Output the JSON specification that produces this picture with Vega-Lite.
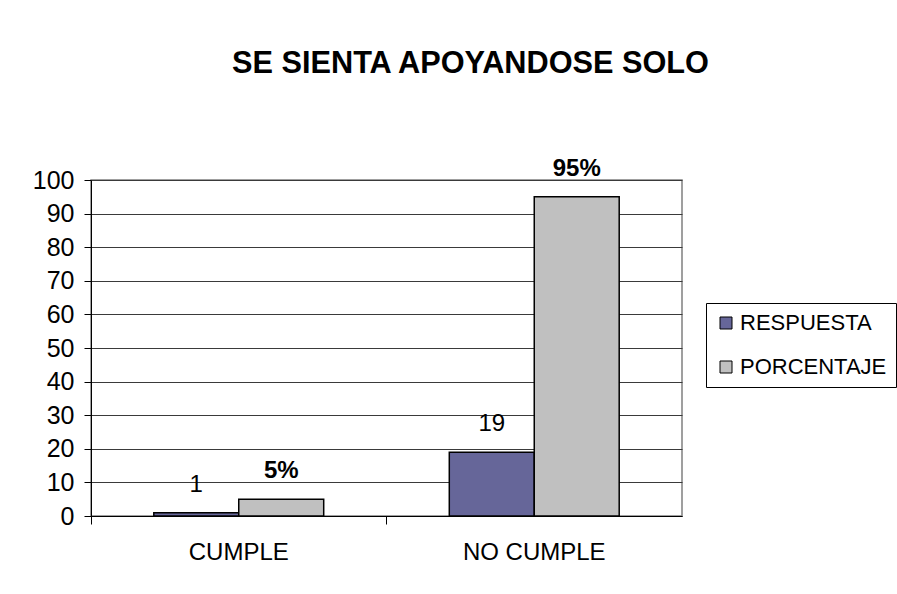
{
  "$schema": "https://vega.github.io/schema/vega-lite/v6.json",
  "width": 591,
  "height": 336,
  "autosize": "none",
  "padding": {"left": 91, "top": 180, "right": 215, "bottom": 78},
  "background": "white",
  "title": {
    "text": "SE SIENTA APOYANDOSE SOLO",
    "font": "Liberation Sans",
    "fontSize": 30.7,
    "fontWeight": "bold",
    "color": "#000000",
    "anchor": "middle",
    "frame": "group",
    "baseline": "alphabetic",
    "offset": 53,
    "dx": 84
  },
  "data": {
    "values": [
      {"categoria": "CUMPLE", "serie": "RESPUESTA", "valor": 1, "etiqueta": "1"},
      {"categoria": "CUMPLE", "serie": "PORCENTAJE", "valor": 5, "etiqueta": "5%"},
      {"categoria": "NO CUMPLE", "serie": "RESPUESTA", "valor": 19, "etiqueta": "19"},
      {"categoria": "NO CUMPLE", "serie": "PORCENTAJE", "valor": 95, "etiqueta": "95%"}
    ]
  },
  "encoding": {
    "x": {
      "field": "categoria",
      "type": "nominal",
      "sort": ["CUMPLE", "NO CUMPLE"],
      "scale": {"paddingInner": 0.425, "paddingOuter": 0.2125},
      "axis": {
        "title": null,
        "labelAngle": 0,
        "labelFont": "Liberation Sans",
        "labelFontSize": 24,
        "labelColor": "#000000",
        "labelPadding": 16,
        "domainColor": "#000000",
        "tickColor": "#000000",
        "tickSize": 8,
        "bandPosition": -0.3694,
        "labelBound": false
      }
    },
    "xOffset": {
      "field": "serie",
      "type": "nominal",
      "sort": ["RESPUESTA", "PORCENTAJE"],
      "scale": {"paddingInner": 0, "paddingOuter": 0}
    },
    "y": {
      "field": "valor",
      "type": "quantitative",
      "scale": {"domain": [0, 100], "nice": false},
      "axis": {
        "title": null,
        "tickCount": 10,
        "labelFont": "Liberation Sans",
        "labelFontSize": 25,
        "labelColor": "#000000",
        "labelPadding": 10,
        "tickSize": 7,
        "tickColor": "#000000",
        "domainColor": "#000000",
        "grid": true,
        "gridColor": "#3a3a3a",
        "gridWidth": 1
      }
    }
  },
  "layer": [
    {
      "mark": {"type": "bar", "stroke": "#000000", "strokeWidth": 1.5},
      "encoding": {
        "color": {
          "field": "serie",
          "type": "nominal",
          "sort": ["RESPUESTA", "PORCENTAJE"],
          "scale": {"domain": ["RESPUESTA", "PORCENTAJE"], "range": ["#666699", "#C0C0C0"]},
          "legend": {
            "title": null,
            "orient": "none",
            "legendX": 615,
            "legendY": 123,
            "strokeColor": "#000000",
            "fillColor": "#ffffff",
            "padding": 9,
            "symbolType": "square",
            "symbolSize": 144,
            "symbolStrokeColor": "#000000",
            "symbolStrokeWidth": 1,
            "symbolOpacity": 1,
            "labelFont": "Liberation Sans",
            "labelFontSize": 22,
            "labelColor": "#000000",
            "labelOffset": 3,
            "rowPadding": 22,
            "labelLimit": 300
          }
        }
      }
    },
    {
      "transform": [{"filter": "datum.serie === 'RESPUESTA'"}],
      "mark": {"type": "text", "baseline": "alphabetic", "dy": -21, "font": "Liberation Sans", "fontSize": 24, "color": "#000000"},
      "encoding": {"text": {"field": "etiqueta"}}
    },
    {
      "transform": [{"filter": "datum.serie === 'PORCENTAJE'"}],
      "mark": {"type": "text", "baseline": "alphabetic", "dy": -21, "font": "Liberation Sans", "fontSize": 24, "fontWeight": "bold", "color": "#000000"},
      "encoding": {"text": {"field": "etiqueta"}}
    }
  ],
  "config": {
    "view": {"stroke": "#808080", "strokeWidth": 1.5}
  }
}
